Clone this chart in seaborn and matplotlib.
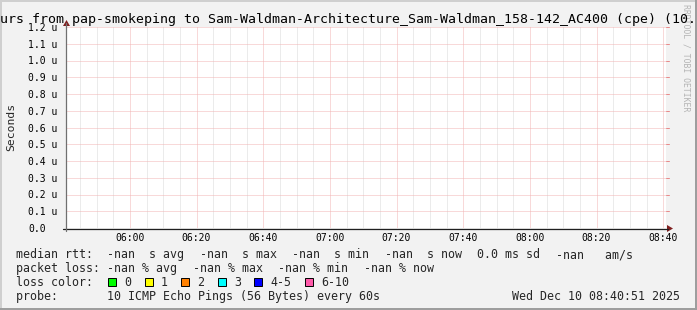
import numpy as np
import pandas as pd
import matplotlib
matplotlib.use("Agg")
import matplotlib.pyplot as plt
import seaborn as sns
from matplotlib.patches import Rectangle, Polygon
from matplotlib.lines import Line2D

# ---------------- data ----------------
title_text = "urs from pap-smokeping to Sam-Waldman-Architecture_Sam-Waldman_158-142_AC400 (cpe) (10."
y_label = "Seconds"
watermark = "RRDTOOL / TOBI OETIKER"

x_start = "05:40:51"
x_end = "08:40:51"
x_tick_labels = ["06:00", "06:20", "06:40", "07:00", "07:20", "07:40", "08:00", "08:20", "08:40"]
y_tick_values = [0.0, 0.1e-6, 0.2e-6, 0.3e-6, 0.4e-6, 0.5e-6, 0.6e-6,
                 0.7e-6, 0.8e-6, 0.9e-6, 1.0e-6, 1.1e-6, 1.2e-6]
y_tick_labels = ["0.0", "0.1 u", "0.2 u", "0.3 u", "0.4 u", "0.5 u", "0.6 u",
                 "0.7 u", "0.8 u", "0.9 u", "1.0 u", "1.1 u", "1.2 u"]

# median rtt samples: no data (all -nan)
sample_times = ["06:00", "07:00", "08:00", "08:40"]
median_rtt = [np.nan, np.nan, np.nan, np.nan]

legend_rtt = ["median rtt:  -nan  s avg", "-nan  s max", "-nan  s min", "-nan  s now",
              "0.0 ms sd", "-nan   am/s"]
legend_loss = ["packet loss: -nan % avg", "-nan % max", "-nan % min", "-nan % now"]
legend_color_title = "loss color:"
loss_labels = ["0", "1", "2", "3", "4-5", "6-10"]
loss_colors = ["#00ff00", "#ffff00", "#ff8000", "#00ffff", "#0000ff", "#ff5aaa"]
legend_probe = "probe:       10 ICMP Echo Pings (56 Bytes) every 60s"
timestamp = "Wed Dec 10 08:40:51 2025"


def to_min(s):
    parts = [int(p) for p in s.split(":")]
    m = parts[0] * 60 + parts[1]
    if len(parts) > 2:
        m += parts[2] / 60.0
    return m


# ---------------- figure ----------------
W, H = 697, 310
MONO = "DejaVu Sans Mono"
sns.set_style("white")
plt.rcParams["font.family"] = [MONO, "DejaVu Sans"]

fig = plt.figure(figsize=(W / 100, H / 100), dpi=100)
fig.patch.set_facecolor("#f2f2f2")


def fx(x):
    return x / W


def fy(y):
    return 1 - y / H


L, R, T, B = 66, 666, 27, 228
ax = fig.add_axes([fx(L), fy(B), (R - L) / W, (B - T) / H])
ax.set_facecolor("white")

df = pd.DataFrame({"time": [to_min(t) for t in sample_times], "rtt": median_rtt})
sns.lineplot(data=df, x="time", y="rtt", ax=ax, color="#00aa00")

ax.set_xlim(to_min(x_start), to_min(x_end))
ax.set_ylim(y_tick_values[0], y_tick_values[-1])

major_x = [to_min(t) for t in x_tick_labels]
minor_x = np.arange(to_min("05:45"), to_min(x_end), 5.0)
ax.set_xticks(major_x)
ax.set_xticklabels(x_tick_labels)
ax.set_xticks(minor_x, minor=True)
ax.set_yticks(y_tick_values)
ax.set_yticklabels(y_tick_labels)

ax.set_xlabel("")
ax.set_ylabel("")
for s in ax.spines.values():
    s.set_visible(False)

dots = (0, (1, 1))
ax.grid(False)
for m in minor_x:
    if min(abs(m - mm) for mm in major_x) > 0.1:
        ax.axvline(m, color="#d8d8d8", lw=0.72, ls=dots, zorder=0.5)
for m in major_x:
    ax.axvline(m, color="#f2b4b4", lw=0.72, ls=dots, zorder=0.6)
for v in y_tick_values[1:]:
    ax.axhline(v, color="#f2b4b4", lw=0.72, ls=dots, zorder=0.6)

ax.tick_params(axis="x", which="major", length=2, width=0.72, color="#eea0a0",
               pad=1.5, labelsize=7, labelcolor="black", direction="out")
ax.tick_params(axis="x", which="minor", length=2, width=0.72, color="#cccccc", direction="out")
ax.tick_params(axis="y", which="major", length=3.5, width=0.72, color="#333333",
               pad=23.5, labelsize=7, labelcolor="black", direction="out",
               right=False, labelright=False)
for t in ax.get_yticklabels():
    t.set_ha("left")
    t.set_fontfamily(MONO)
for t in ax.get_xticklabels():
    t.set_fontfamily(MONO)


# axis lines + arrows (figure pixel coordinates)
def pline(x0, y0, x1, y1, **kw):
    fig.add_artist(Line2D([fx(x0), fx(x1)], [fy(y0), fy(y1)], transform=fig.transFigure, **kw))


# small red ticks on the right edge
for v in y_tick_values[1:]:
    yy = B - (v - y_tick_values[0]) / (y_tick_values[-1] - y_tick_values[0]) * (B - T)
    pline(R, yy, R + 3, yy, color="#e88888", lw=0.7)

pline(63, B + 0.5, 668, B + 0.5, color="#1f1f1f", lw=0.9)
pline(L, 231, L, 23, color="#707070", lw=0.9)
arrow_c = "#801f1f"
fig.add_artist(Polygon([(fx(667), fy(B - 3)), (fx(673), fy(B + 0.5)), (fx(667), fy(B + 4))],
                       closed=True, transform=fig.transFigure, color=arrow_c, lw=0))
fig.add_artist(Polygon([(fx(L - 3), fy(26)), (fx(L + 0.5), fy(20)), (fx(L + 4), fy(26))],
                       closed=True, transform=fig.transFigure, color=arrow_c, lw=0))

# frame shading
fig.add_artist(Rectangle((0, fy(2)), 1, 2 / H, transform=fig.transFigure, color="#cfcfcf", lw=0))
fig.add_artist(Rectangle((0, 0), 2 / W, 1, transform=fig.transFigure, color="#cfcfcf", lw=0))
fig.add_artist(Rectangle((0, 0), 1, 2 / H, transform=fig.transFigure, color="#9e9e9e", lw=0))
fig.add_artist(Rectangle((fx(W - 2), 0), 2 / W, 1, transform=fig.transFigure, color="#9e9e9e", lw=0))

# texts
fig.text(fx(686), fy(4), watermark, rotation=-90, ha="center", va="top",
         fontsize=5.9, color="#b4b4b4", family=MONO)
fig.text(fx(0.5), fy(23.3), title_text, ha="left", va="baseline", fontsize=9.5,
         color="black", family=MONO)
fig.text(fx(11), fy(127), y_label, rotation=90, ha="center", va="center",
         fontsize=8.2, family=MONO)

renderer = fig.canvas.get_renderer()
LEG_FS = 8.4
GAP = 15.6
BOX_GAP = 13.6
base_y = [258.3, 272.2, 286.0, 299.8]


def seg_row(items, by, x0=16.0):
    x = x0
    for it in items:
        t = fig.text(fx(x), fy(by), it, ha="left", va="baseline", fontsize=LEG_FS, family=MONO)
        x += t.get_window_extent(renderer).width + GAP
    return x


seg_row(legend_rtt, base_y[0])
seg_row(legend_loss, base_y[1])
fig.text(fx(16), fy(base_y[2]), legend_color_title, ha="left", va="baseline",
         fontsize=LEG_FS, family=MONO)
x = 108.0
for lab, col in zip(loss_labels, loss_colors):
    fig.add_artist(Rectangle((fx(x), fy(286.0)), 8 / W, 8 / H, transform=fig.transFigure,
                             facecolor=col, edgecolor="black", lw=0.7))
    t = fig.text(fx(x + 16), fy(base_y[2]), lab, ha="left", va="baseline", fontsize=LEG_FS, family=MONO)
    x = x + 16 + t.get_window_extent(renderer).width + BOX_GAP

fig.text(fx(16), fy(base_y[3]), legend_probe, ha="left", va="baseline", fontsize=LEG_FS, family=MONO)
fig.text(fx(680.5), fy(base_y[3]), timestamp, ha="right", va="baseline", fontsize=LEG_FS, family=MONO)

fig.savefig("out.png", dpi=100, facecolor=fig.get_facecolor())
